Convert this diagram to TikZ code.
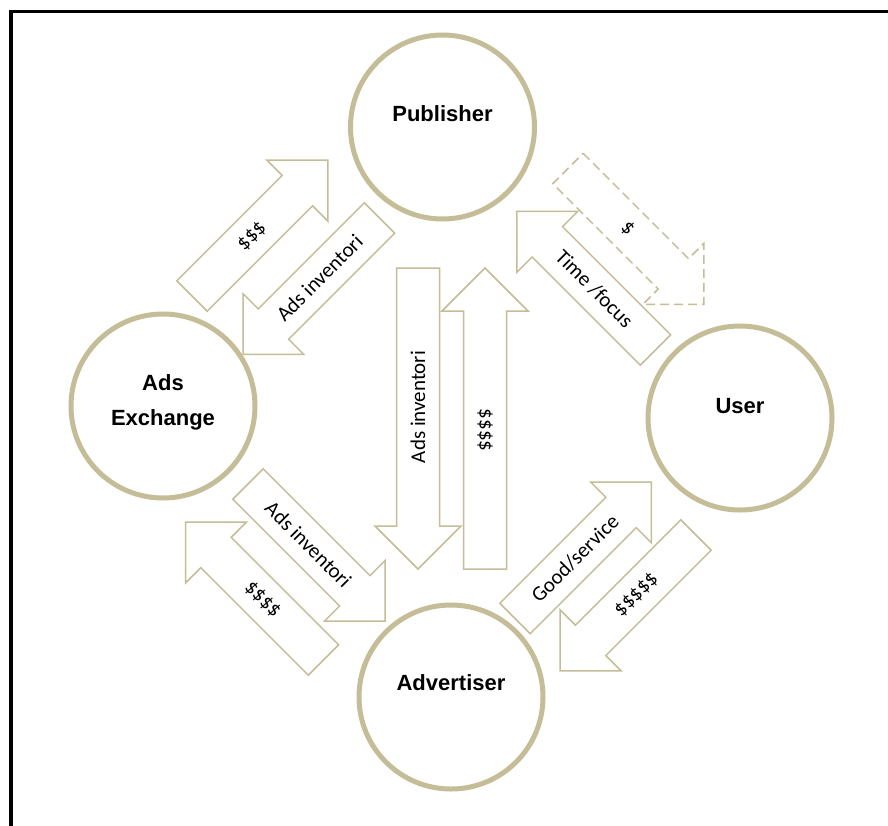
\documentclass[tikz,border=0pt]{standalone}
\usepackage{fontspec}
\setmainfont{Carlito}
\newfontfamily\circfont{Liberation Sans}
\usetikzlibrary{arrows.meta}

\definecolor{tan}{HTML}{C4BD97}

\tikzset{
  arrowline/.style={draw=tan, line width=1.5pt, fill=white, line join=miter},
  arrowtext/.style={font=\fontsize{21}{25}\selectfont, inner sep=0pt},
  actor/.style={circle, draw=tan, line width=5pt, minimum size=184pt, inner sep=0pt},
  actortext/.style={font=\circfont\bfseries\fontsize{22}{35}\selectfont, align=center, inner sep=0pt},
}

% block arrow: [options]{tail}{angle}{length}{text}{text angle}{name}
\newcommand\flowarrow[7][]{%
  \begin{scope}[shift={(#2)}, rotate=#3]
    \draw[arrowline,#1] (0,-21.5) -- ({#4-43},-21.5) -- ({#4-43},-43) -- (#4,0)
      -- ({#4-43},43) -- ({#4-43},21.5) -- (0,21.5) -- cycle;
    \node[arrowtext, rotate=#6] (#7) at ({(#4-43)/2+10},0) {#5};
  \end{scope}}

\begin{document}
\begin{tikzpicture}[x=1pt, y=-1pt]
\useasboundingbox (0,0) rectangle (888,825);
\fill[white] (0,0) rectangle (888,825);
\draw[line width=3.5pt] (11,830) -- (11,11.5) -- (892,11.5);

\begin{scope}
    \node (publisher) at (442.5,127) [actor] {};
    \node (exchange) at (163,406) [actor] {};
    \node (user) at (740,418) [actor] {};
    \node (advertiser) at (451,697) [actor] {};

    \node (pubtext) at (442.5,114) [actortext] {Publisher};
    \node (exchtext) at (163,402) [actortext] {Ads\\Exchange};
    \node (usertext) at (740,406) [actortext] {User};
    \node (advtext) at (451,683) [actortext] {Advertiser};
\end{scope}

\flowarrow{192,296}{45}{192}{\$\$\$}{45}{exchpay}
\flowarrow{379.5,218}{225}{193}{Ads inventori}{45}{pubinv}
\flowarrow[dashed, dash pattern=on 9pt off 5pt]{568,168.5}{-45}{192}{\$}{-45}{pubpay}
\flowarrow{655.5,350}{135}{196}{Time /focus}{-45}{userfocus}
\flowarrow{248,484}{-45}{194}{Ads inventori}{-45}{exchinv}
\flowarrow{323.5,660}{135}{195}{\$\$\$\$}{-45}{advpay}
\flowarrow{515,618.5}{45}{193}{Good/service}{45}{advgood}
\flowarrow{696,535}{225}{192}{\$\$\$\$\$}{45}{userpay}
\flowarrow{418,268}{-90}{301}{Ads inventori}{90}{directinv}
\flowarrow{485,569}{90}{301}{\$\$\$\$}{-90}{directpay}
\end{tikzpicture}
\end{document}
